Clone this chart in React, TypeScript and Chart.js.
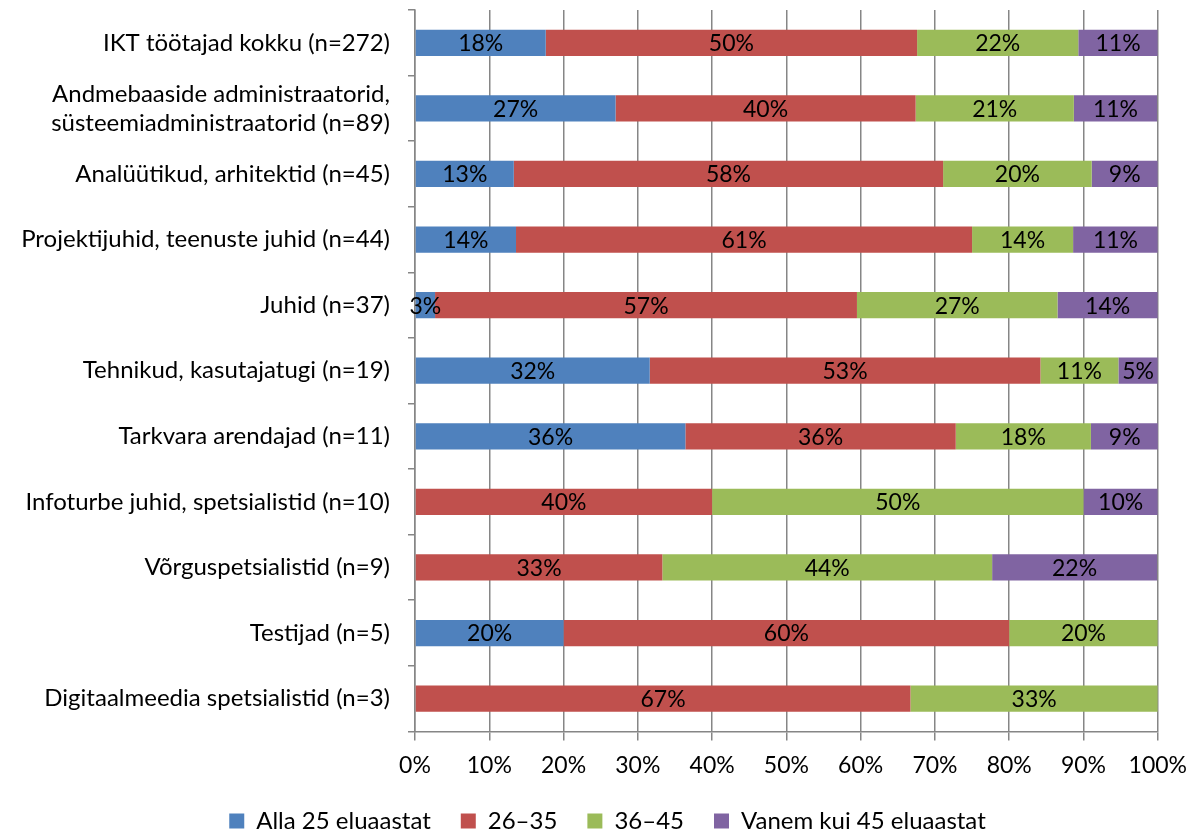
import React, { useEffect, useRef } from "react";
import { Chart, registerables } from "chart.js";

Chart.register(...registerables);

const categories: (string | string[])[] = [
  "IKT töötajad kokku (n=272)",
  ["Andmebaaside administraatorid,", "süsteemiadministraatorid (n=89)"],
  "Analüütikud, arhitektid (n=45)",
  "Projektijuhid, teenuste juhid (n=44)",
  "Juhid (n=37)",
  "Tehnikud, kasutajatugi (n=19)",
  "Tarkvara arendajad (n=11)",
  "Infoturbe juhid, spetsialistid (n=10)",
  "Võrguspetsialistid (n=9)",
  "Testijad (n=5)",
  "Digitaalmeedia spetsialistid (n=3)",
];

const seriesNames = ["Alla 25 eluaastat", "26–35", "36–45", "Vanem kui 45 eluaastat"];
const alla25 = [17.6, 27.0, 13.3, 13.6, 2.7, 31.6, 36.4, 0, 0, 20.0, 0];
const age26to35 = [50.0, 40.4, 57.8, 61.4, 56.8, 52.6, 36.4, 40.0, 33.3, 60.0, 66.7];
const age36to45 = [21.7, 21.3, 20.0, 13.6, 27.0, 10.5, 18.2, 50.0, 44.4, 20.0, 33.3];
const vanem45 = [10.7, 11.2, 8.9, 11.4, 13.5, 5.3, 9.1, 10.0, 22.2, 0, 0];
const xTicks = [0, 10, 20, 30, 40, 50, 60, 70, 80, 90, 100];

const colors = ["#4F81BD", "#C0504D", "#9BBB59", "#8064A2"];
const FONT = "Lato";

const labelPlugin = {
  id: "segLabels",
  afterDatasetsDraw(chart: any) {
    const ctx = chart.ctx;
    ctx.save();
    ctx.font = `23px ${FONT}`;
    ctx.fillStyle = "#000";
    ctx.textAlign = "center";
    ctx.textBaseline = "middle";
    chart.data.datasets.forEach((ds: any, di: number) => {
      const meta = chart.getDatasetMeta(di);
      meta.data.forEach((el: any, i: number) => {
        const v = ds.data[i];
        if (!v) return;
        const p = el.getProps(["x", "y", "base"], true);
        ctx.fillText(Math.round(v) + "%", (p.x + p.base) / 2, p.y + 1);
      });
    });
    ctx.restore();
  },
};

const legendShift = {
  id: "legendShift",
  afterLayout(chart: any) {
    if (chart.legend) {
      chart.legend.left += 56;
    }
  },
};

export default function App() {
  const ref = useRef<HTMLCanvasElement>(null);
  useEffect(() => {
    if (!ref.current) return;
    const data = [alla25, age26to35, age36to45, vanem45];
    const chart = new Chart(ref.current, {
      type: "bar",
      data: {
        labels: categories,
        datasets: seriesNames.map((name, i) => ({
          label: name,
          data: data[i],
          backgroundColor: colors[i],
          borderWidth: 0,
          categoryPercentage: 1,
          barPercentage: 0.4,
        })),
      },
      options: {
        indexAxis: "y",
        animation: false,
        responsive: true,
        maintainAspectRatio: false,
        layout: { padding: { top: 10, right: 39, left: 0, bottom: -8 } },
        scales: {
          x: {
            stacked: true,
            min: 0,
            max: 100,
            afterBuildTicks: (scale: any) => {
              scale.ticks = xTicks.map((v) => ({ value: v }));
            },
            afterFit: (scale: any) => {
              scale.height = scale.height - 11;
            },
            ticks: {
              callback: (v: any) => v + "%",
              color: "#000",
              font: { family: FONT, size: 23 },
              padding: 11,
              maxRotation: 0,
            },
            grid: { color: "#868686", lineWidth: 1.5, tickLength: 9 },
            border: { color: "#868686", width: 1.5 },
          },
          y: {
            stacked: true,
            afterFit: (scale: any) => {
              scale.width = 415;
              scale.paddingTop = 0;
              scale.paddingBottom = 0;
            },
            ticks: {
              color: "#000",
              font: { family: FONT, size: 24 },
              padding: 18,
            },
            grid: {
              drawOnChartArea: false,
              drawTicks: true,
              tickLength: 7,
              offset: true,
              color: "#868686",
              lineWidth: 1.5,
            },
            border: { color: "#868686", width: 1.5 },
          },
        },
        plugins: {
          legend: {
            position: "bottom",
            labels: {
              boxWidth: 15,
              boxHeight: 15,
              padding: 30,
              color: "#000",
              font: { family: FONT, size: 24 },
            },
          },
          tooltip: { enabled: false },
        },
      },
      plugins: [labelPlugin, legendShift],
    } as any);
    return () => chart.destroy();
  }, []);
  return (
    <div style={{ position: "fixed", left: 0, top: 0, width: 1198, height: 835, background: "#fff" }}>
      <canvas ref={ref} />
    </div>
  );
}
